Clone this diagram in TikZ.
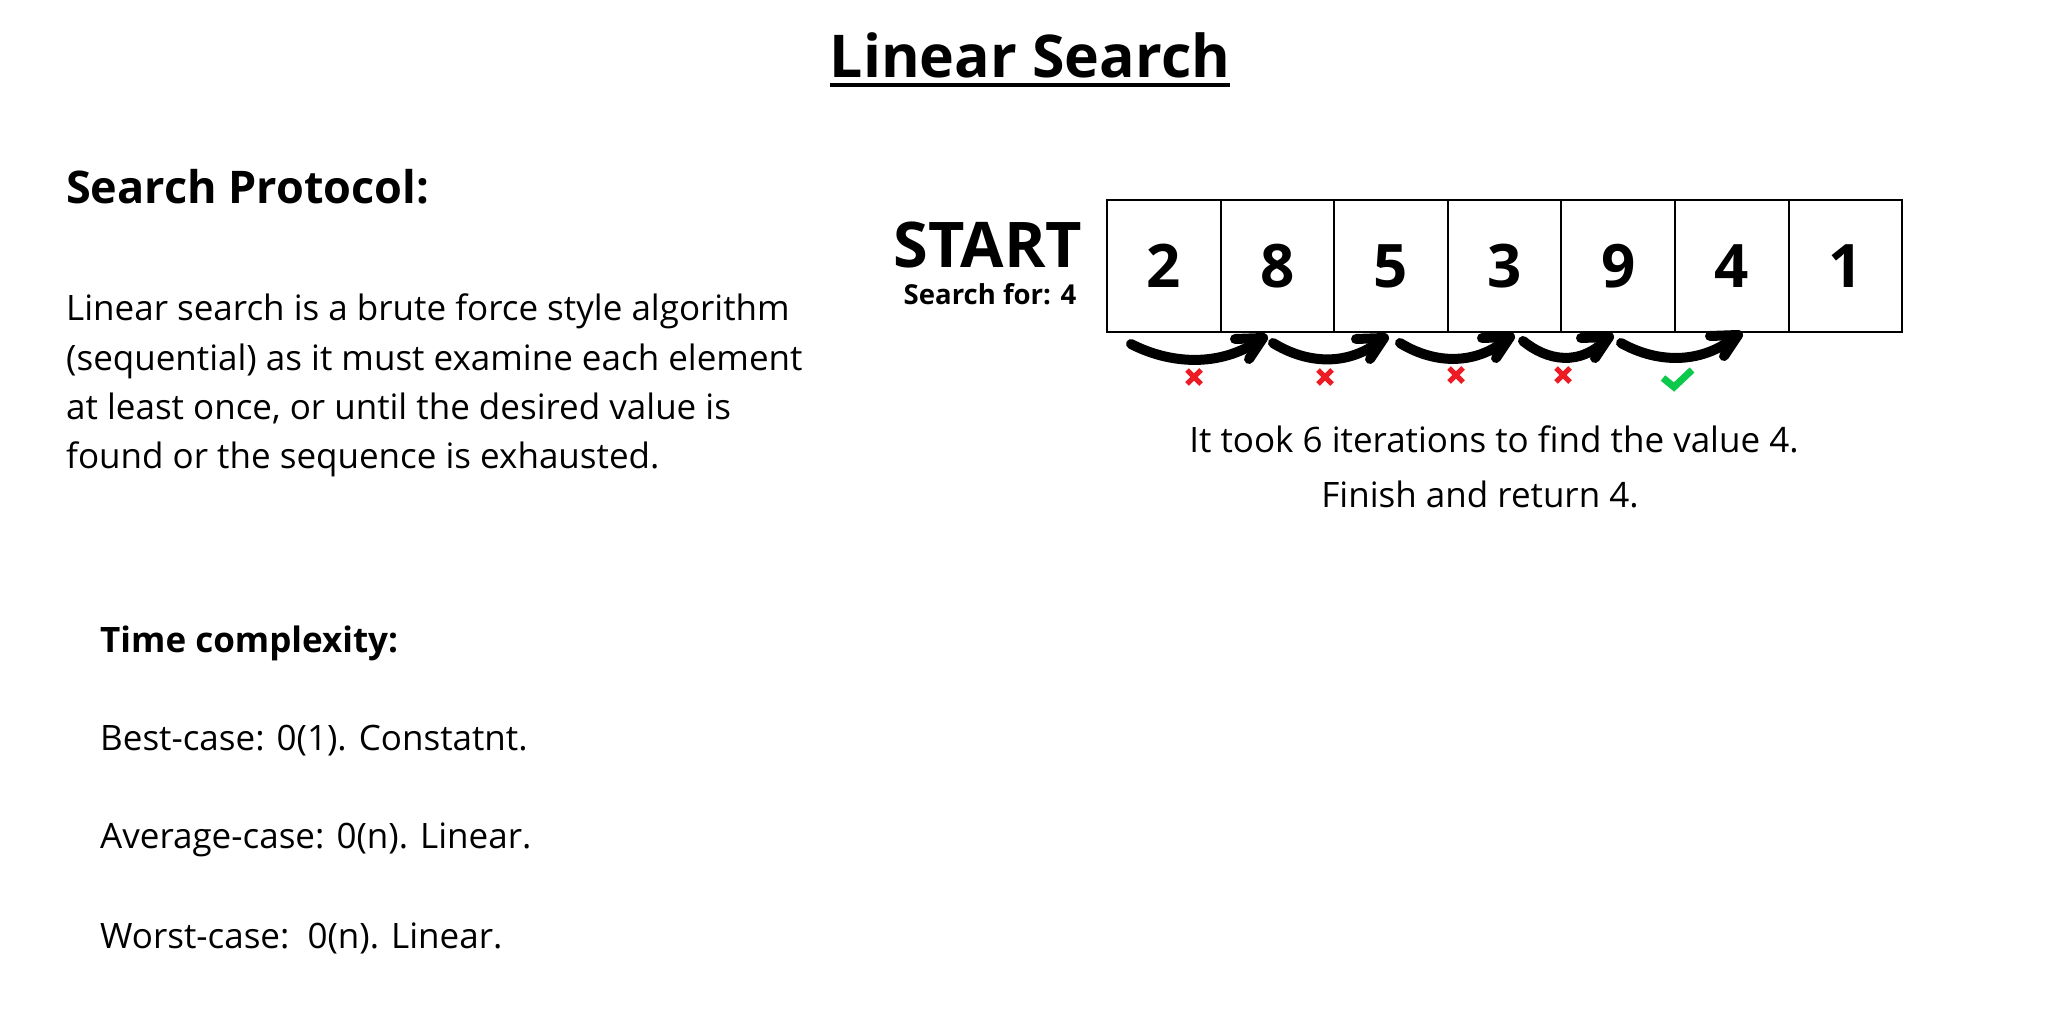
\documentclass[tikz,border=0pt]{standalone}
\usepackage{fontspec}
\setmainfont{Open Sans}
\usetikzlibrary{calc}
\definecolor{xred}{RGB}{237,28,36}
\definecolor{okgreen}{RGB}{12,200,75}
\begin{document}
\begin{tikzpicture}[x=1pt,y=-1pt,
  txt/.style={inner sep=0pt, anchor=base west, font=\fontsize{35}{49}\selectfont},
  ctxt/.style={inner sep=0pt, anchor=base, font=\fontsize{35}{49}\selectfont},
  cell/.style={draw, line width=2pt, minimum width=113.6pt, minimum height=132pt, inner sep=0pt, font=\bfseries\fontsize{60}{62}\selectfont},
  arrbody/.style={line width=10pt, line cap=round},
  arrhead/.style={line width=10pt, line cap=round, line join=round},
  xmark/.style={xred, line width=5pt},
  ckmark/.style={okgreen, line width=7pt, line join=miter}]
\useasboundingbox[fill=white] (0,0) rectangle (2056,1024);

% title
\node[inner sep=0pt, anchor=base, font=\bfseries\fontsize{59}{72}\selectfont] (title) at (1030,78) {Linear Search};
\draw[line width=4.5pt] ($(title.base west)+(0,7)$) -- ($(title.base east)+(0,7)$);

% left column
\node[inner sep=0pt, anchor=base west, font=\bfseries\fontsize{45}{54}\selectfont] (sp) at (66,204) {Search Protocol:};
\node[txt] (p1) at (66,320) {Linear search is a brute force style algorithm};
\node[txt] (p2) at (66,370) {(sequential) as it must examine each element};
\node[txt] (p3) at (66,419) {at least once, or until the desired value is};
\node[txt] (p4) at (66,468) {found or the sequence is exhausted.};

\node[txt, font=\bfseries\fontsize{35}{49}\selectfont] (tc) at (100,652) {Time complexity:};
\node[txt] (best) at (100,750) {Best-case: 0(1). Constatnt.};
\node[txt] (avg) at (100,848) {Average-case: 0(n). Linear.};
\node[txt] (worst) at (100,948) {Worst-case:\ \ 0(n). Linear.};

% start label
\node[inner sep=0pt, anchor=base, font=\bfseries\fontsize{63}{66}\selectfont] (start) at (988,268) {START};
\node[inner sep=0pt, anchor=base, font=\bfseries\fontsize{27.5}{30}\selectfont] (sfor) at (990,305) {Search for: 4};

% array cells
\node[cell] (c1) at (1163.8,266) {2};
\node[cell] (c2) at (1277.4,266) {8};
\node[cell] (c3) at (1391.0,266) {5};
\node[cell] (c4) at (1504.6,266) {3};
\node[cell] (c5) at (1618.2,266) {9};
\node[cell] (c6) at (1731.8,266) {4};
\node[cell] (c7) at (1845.4,266) {1};

% arrow end points
\coordinate (t1) at (1131,344); \coordinate (h1) at (1263,338);
\coordinate (t2) at (1273,343); \coordinate (h2) at (1384,338);
\coordinate (t3) at (1400,343); \coordinate (h3) at (1510,337);
\coordinate (t4) at (1523,341); \coordinate (h4) at (1609,337);
\coordinate (t5) at (1621,343); \coordinate (h5) at (1738,335);

\foreach \i in {1,...,5}{
  \draw[arrbody] (t\i) .. controls ($(t\i)!0.27!(h\i)+(0,20)$) and ($(t\i)!0.66!(h\i)+(0,30)$) .. (h\i);
  \draw[arrhead] ($(h\i)+(-28,1)$) -- (h\i) -- ($(h\i)+(-14,21)$);
}

% marks
\coordinate (m1) at (1194,377);
\coordinate (m2) at (1325,377);
\coordinate (m3) at (1456,375);
\coordinate (m4) at (1563,375);
\coordinate (m5) at (1677,378);
\foreach \i in {1,...,4}{
  \draw[xmark] ($(m\i)+(-7,-7)$) -- ($(m\i)+(7,7)$);
  \draw[xmark] ($(m\i)+(-7,7)$) -- ($(m\i)+(7,-7)$);
}
\draw[ckmark] ($(m5)+(-14,0)$) -- ($(m5)+(-3,9)$) -- ($(m5)+(15,-8)$);

% result text
\node[ctxt] (it) at (1494,452) {It took 6 iterations to find the value 4.};
\node[ctxt] (fin) at (1480,507) {Finish and return 4.};
\end{tikzpicture}
\end{document}
